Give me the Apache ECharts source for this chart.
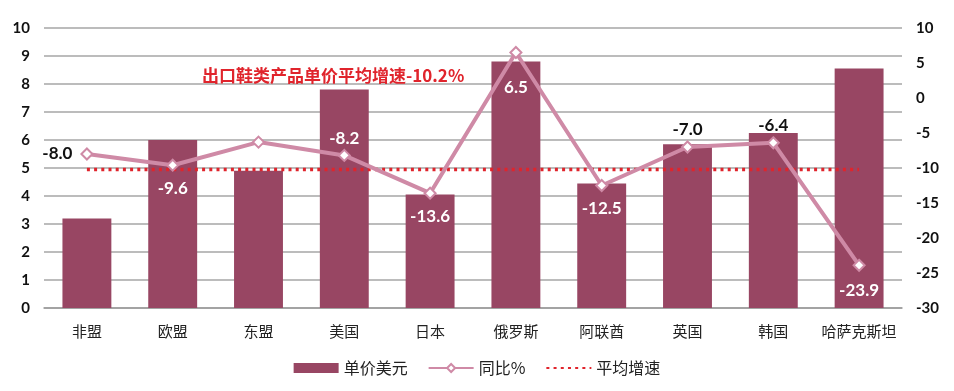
<!DOCTYPE html>
<html><head><meta charset="utf-8">
<script src="https://cdn.jsdelivr.net/npm/echarts@6/dist/echarts.min.js"></script>
<style>html,body{margin:0;padding:0;background:#fff}#c{width:954px;height:391px}</style>
</head><body><div id="c"></div>
<script>
const categories = ['非盟','欧盟','东盟','美国','日本','俄罗斯','阿联酋','英国','韩国','哈萨克斯坦'];
const unitPrice = [3.2, 6.0, 4.9, 7.8, 4.05, 8.8, 4.45, 5.85, 6.25, 8.55];
const yoy = [-8.0, -9.6, -6.3, -8.2, -13.6, 6.5, -12.5, -7.0, -6.4, -23.9];
const yoyLabels = ['-8.0','-9.6','','-8.2','-13.6','6.5','-12.5','-7.0','-6.4','-23.9'];
const avgGrowth = -10.2;
const leftTicks = [0,10,1];
const rightTicks = [-30,10,5];

const labelStyle = [
  {position:'left', color:'#111', distance:8},
  {position:'bottom', color:'#fff'},
  {show:false},
  {position:'top', color:'#fff', distance:2},
  {position:'bottom', color:'#fff'},
  {position:'bottom', color:'#fff', distance:20},
  {position:'bottom', color:'#fff'},
  {position:'top', color:'#111', distance:2},
  {position:'top', color:'#111', distance:2},
  {position:'bottom', color:'#fff', distance:10}
];
const font = '"Noto Sans CJK SC", "Noto Sans", sans-serif';
const numFont = 'Lato, "Open Sans", sans-serif';
const chart = echarts.init(document.getElementById('c'));
chart.setOption({
  animation:false,
  textStyle:{fontFamily:font},
  title:{text:'出口鞋类产品单价平均增速-10.2%', left:197, top:62,
    textStyle:{color:'#E0242C', fontSize:17, fontWeight:'bold', fontFamily:font}},
  grid:{left:44, right:52, top:28, bottom:83},
  legend:{bottom:10, left:'center', itemGap:20, itemWidth:45, itemHeight:10,
    textStyle:{fontSize:16, color:'#222', fontFamily:font},
    data:[{name:'单价美元', icon:'rect'},{name:'同比%'},{name:'平均增速', itemStyle:{opacity:0}}]},
  xAxis:{type:'category', data:categories, boundaryGap:true,
    axisLine:{show:true, lineStyle:{color:'#9a9a9a', width:1.5}}, axisTick:{show:false},
    axisLabel:{color:'#222', fontSize:15, margin:16, interval:0, fontFamily:font}},
  yAxis:[
    {type:'value', min:leftTicks[0], max:leftTicks[1], interval:leftTicks[2],
     axisLine:{show:false}, axisTick:{show:false},
     axisLabel:{color:'#111', fontSize:15, fontWeight:'bold', margin:14, fontFamily:numFont},
     splitLine:{lineStyle:{color:'#a6a6a6', width:1.5}}},
    {type:'value', min:rightTicks[0], max:rightTicks[1], interval:rightTicks[2], position:'right',
     axisLine:{show:false}, axisTick:{show:false},
     axisLabel:{color:'#111', fontSize:15, fontWeight:'bold', margin:14, fontFamily:numFont},
     splitLine:{show:false}}
  ],
  series:[
    {name:'单价美元', type:'bar', data:unitPrice, barWidth:'57%', yAxisIndex:0,
     itemStyle:{color:'#984663'}, z:1},
    {name:'同比%', type:'line', yAxisIndex:1, z:3,
     data:yoy.map((v,i)=>({value:v, label:Object.assign({show:true, formatter:yoyLabels[i]}, labelStyle[i])})),
     symbol:'diamond', symbolSize:11,
     lineStyle:{color:'#CF8AA6', width:4},
     itemStyle:{color:'#fff', borderColor:'#CF8AA6', borderWidth:2},
     label:{fontSize:17, fontWeight:'bold', fontFamily:numFont, distance:8}},
    {name:'平均增速', type:'line', yAxisIndex:1, z:2, symbol:'none',
     data:categories.map(()=>avgGrowth),
     lineStyle:{color:'#E0242C', width:3.5, type:[3,4.2]},
     itemStyle:{color:'#E0242C'}}
  ]
});
</script></body></html>
